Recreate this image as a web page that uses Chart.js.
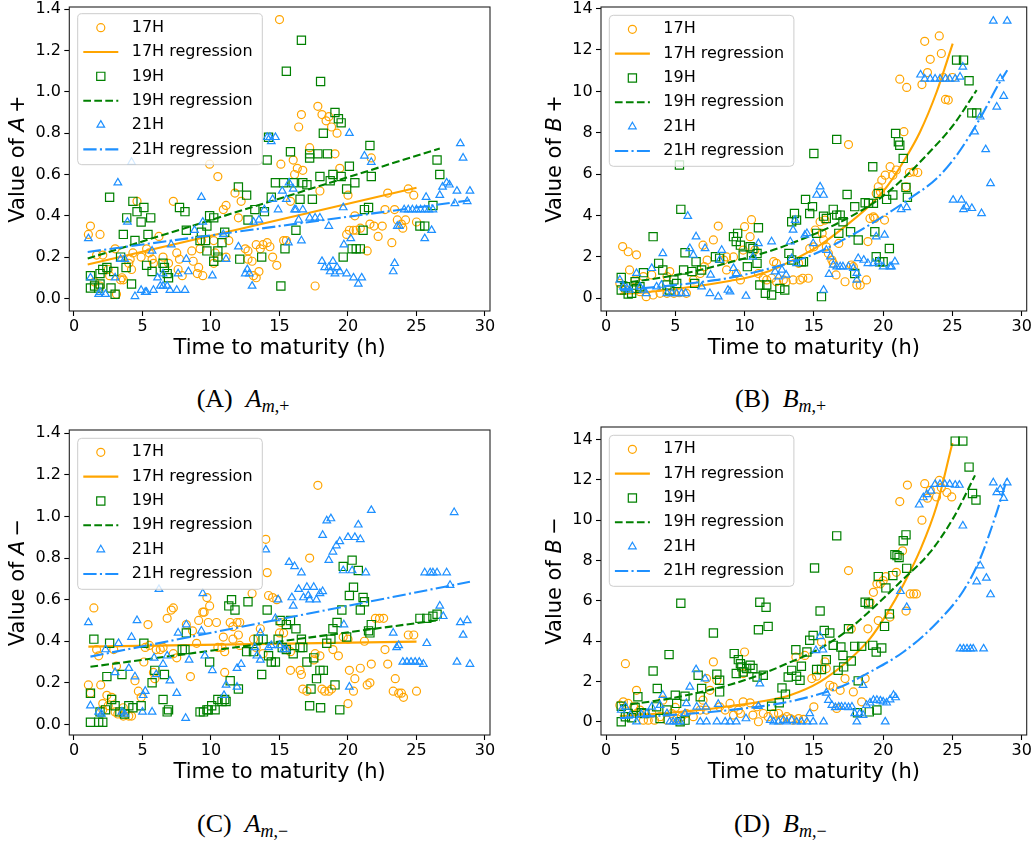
<!DOCTYPE html>
<html><head><meta charset="utf-8">
<script src="https://cdn.jsdelivr.net/npm/chart.js@4.4.1/dist/chart.umd.min.js"></script>
<style>
html,body{margin:0;padding:0;background:#fff}
body{width:1036px;height:846px;position:relative;overflow:hidden}
canvas{position:absolute}
.cap{position:absolute;font-family:"Liberation Serif",serif;font-size:26px;line-height:26px;white-space:nowrap;color:#000}
.cap .m{margin-left:13px}
.cap .sb{font-size:18px;position:relative;top:5px;line-height:0}
</style></head><body>
<canvas id="cA" width="518" height="372" style="left:0;top:0"></canvas>
<canvas id="cB" width="518" height="372" style="left:518px;top:0"></canvas>
<canvas id="cC" width="518" height="372" style="left:0;top:420px"></canvas>
<canvas id="cD" width="518" height="372" style="left:518px;top:420px"></canvas>
<div class="cap" style="left:196.7px;top:386.2px">(A)<span class="m"><i>A</i><span class="sb"><i>m</i>,+</span></span></div>
<div class="cap" style="left:735px;top:386.2px">(B)<span class="m"><i>B</i><span class="sb"><i>m</i>,+</span></span></div>
<div class="cap" style="left:197px;top:811.2px">(C)<span class="m"><i>A</i><span class="sb"><i>m</i>,−</span></span></div>
<div class="cap" style="left:734px;top:811.2px">(D)<span class="m"><i>B</i><span class="sb"><i>m</i>,−</span></span></div>
<script>
// ---------- tick values / labels ----------
const xTicks = [0, 5, 10, 15, 20, 25, 30];
const yTicksA = [0, 0.2, 0.4, 0.6, 0.8, 1.0, 1.2, 1.4];
const yLabelsA = ['0.0','0.2','0.4','0.6','0.8','1.0','1.2','1.4'];
const yTicksB = [0, 2, 4, 6, 8, 10, 12, 14];
const yLabelsB = ['0','2','4','6','8','10','12','14'];
const seriesLabels = ['17H', '17H regression', '19H', '19H regression', '21H', '21H regression'];
const xTitle = 'Time to maturity (h)';

// ---------- (A) A m,+ ----------
const aPlus17 = [[1.05,0.31],[1.2,0.35],[1.9,0.31],[1.65,0.21],[2.1,0.21],[2.5,0.14],[2.6,0.11],[3.0,0.24],[3.1,0.02],[1.5,0.08],[1.9,0.06],[3.4,0.09],[3.6,0.09],[3.5,0.1],[4.0,0.17],[4.2,0.14],[4.1,0.19],[4.6,0.47],[4.3,0.22],[4.9,0.2],[5.3,0.24],[5.5,0.22],[5.7,0.19],[5.8,0.17],[6.2,0.30],[6.5,0.2],[6.9,0.17],[7.25,0.47],[7.5,0.22],[7.7,0.19],[7.9,0.11],[7.6,0.14],[8.6,0.23],[8.7,0.18],[9.0,0.12],[9.1,0.15],[9.4,0.11],[9.2,0.24],[9.3,0.28],[9.9,0.65],[10.5,0.59],[10.2,0.17],[10.3,0.22],[10.2,0.28],[10.9,0.43],[11.1,0.45],[11.3,0.28],[11.1,0.2],[11.75,0.51],[12.0,0.39],[12.2,0.47],[12.5,0.24],[12.7,0.19],[13.0,0.18],[13.1,0.11],[13.3,0.10],[13.5,0.13],[12.7,0.23],[13.3,0.26],[13.6,0.24],[13.8,0.26],[14.1,0.27],[14.3,0.25],[14.5,0.2],[14.8,0.16],[15.0,1.35],[15.1,0.65],[15.3,0.28],[15.5,0.28],[15.8,0.47],[16.0,0.67],[16.1,0.60],[16.3,0.63],[16.4,0.83],[16.6,0.89],[16.7,0.62],[17.2,0.73],[17.6,0.06],[17.8,0.93],[17.95,0.52],[18.1,0.89],[18.4,0.86],[18.6,0.88],[18.8,0.83],[19.2,0.8],[19.05,0.70],[19.4,0.63],[20.0,0.50],[19.9,0.31],[20.1,0.33],[20.4,0.33],[20.6,0.33],[20.9,0.34],[20.5,0.40],[21.4,0.23],[21.6,0.36],[21.9,0.35],[22.5,0.35],[21.7,0.68],[22.2,0.30],[22.9,0.51],[22.7,0.43],[23.2,0.27],[23.6,0.38],[23.9,0.36],[24.0,0.34],[24.2,0.38],[24.4,0.53],[24.8,0.50],[25.0,0.37],[23.4,0.43]];
const aPlus17Reg = [[1,0.164],[25,0.536]];
const aPlus19 = [[1.2,0.11],[1.2,0.05],[1.5,0.06],[1.8,0.05],[1.9,0.07],[1.9,0.12],[2.1,0.14],[2.4,0.15],[2.7,0.05],[3.0,0.02],[2.6,0.49],[2.9,0.13],[3.4,0.2],[3.6,0.31],[3.85,0.39],[3.8,0.15],[4.2,0.07],[4.3,0.47],[4.45,0.28],[4.6,0.42],[4.9,0.37],[5.1,0.44],[5.3,0.16],[5.4,0.31],[5.6,0.39],[5.7,0.13],[6.5,0.17],[6.6,0.15],[6.8,0.12],[6.9,0.1],[7.7,0.44],[8.1,0.42],[8.2,0.33],[9.2,0.28],[9.6,0.28],[9.3,0.32],[9.7,0.35],[9.7,0.23],[9.9,0.40],[10.2,0.39],[10.2,0.18],[10.5,0.23],[10.5,0.2],[10.8,0.27],[11.0,0.32],[12.0,0.54],[12.6,0.50],[12.1,0.19],[12.7,0.38],[13.2,0.43],[13.7,0.2],[13.9,0.42],[14.1,0.67],[14.2,0.78],[14.4,0.49],[14.7,0.56],[15.1,0.06],[15.3,0.56],[15.4,0.24],[15.5,1.10],[15.8,0.71],[16.0,0.56],[16.2,0.33],[16.5,0.48],[16.6,1.25],[16.7,0.56],[17.0,0.55],[17.2,0.70],[17.2,0.68],[17.4,0.48],[17.8,0.70],[17.95,0.59],[18.0,1.05],[18.2,0.80],[18.5,0.70],[18.7,0.57],[18.9,0.60],[19.05,0.90],[19.3,0.87],[19.5,0.85],[19.5,0.59],[19.65,0.2],[19.9,0.53],[20.1,0.64],[20.3,0.24],[20.6,0.24],[20.9,0.24],[20.5,0.56],[21.1,0.33],[21.2,0.43],[21.5,0.44],[21.6,0.74],[21.7,0.59],[25.25,0.35],[25.6,0.35],[26.2,0.45],[26.5,0.67],[26.7,0.60]];
const aPlus19Reg = [[1,0.193],[26.7,0.726]];
const aPlus21 = [[1.05,0.29],[1.2,0.10],[1.8,0.02],[1.9,0.03],[2.3,0.02],[3.2,0.56],[3.0,0.10],[3.4,0.19],[3.7,0.19],[3.9,0.37],[4.2,0.66],[4.45,0.01],[4.9,0.04],[5.2,0.03],[5.3,0.03],[5.7,0.23],[5.8,0.04],[6.1,0.10],[6.3,0.06],[6.5,0.06],[6.8,0.06],[7.0,0.04],[6.5,0.12],[7.1,0.26],[7.5,0.04],[7.6,0.12],[8.1,0.04],[8.2,0.19],[8.35,0.13],[8.8,0.33],[9.3,0.49],[9.4,0.37],[10.1,0.11],[11.1,0.19],[10.9,0.31],[12.0,0.25],[12.5,0.12],[12.65,0.14],[12.8,0.12],[13.1,0.37],[13.0,0.06],[13.5,0.38],[13.9,0.43],[14.1,0.78],[14.3,0.78],[14.4,0.76],[14.7,0.78],[14.5,0.48],[14.9,0.43],[15.2,0.52],[15.5,0.48],[15.7,0.56],[16.0,0.53],[15.65,0.27],[16.1,0.43],[16.2,0.43],[16.4,0.38],[16.6,0.28],[16.7,0.43],[17.2,0.39],[17.6,0.39],[17.95,0.39],[18.1,0.18],[18.3,0.15],[18.6,0.15],[18.9,0.18],[19.2,0.15],[19.4,0.13],[18.7,0.13],[19.05,0.12],[18.6,0.35],[19.65,0.44],[19.7,0.26],[19.9,0.12],[20.1,0.80],[20.2,0.29],[20.4,0.1],[20.75,0.07],[21.0,0.1],[21.2,0.69],[21.7,0.66],[23.3,0.13],[23.4,0.17],[23.6,0.35],[23.75,0.35],[24.1,0.43],[24.4,0.43],[24.7,0.43],[25.0,0.43],[25.3,0.43],[25.6,0.43],[25.9,0.43],[25.6,0.29],[25.7,0.49],[26.1,0.33],[26.2,0.43],[26.7,0.50],[26.9,0.54],[27.2,0.56],[27.4,0.55],[27.8,0.46],[27.95,0.52],[28.2,0.75],[28.4,0.68],[28.7,0.47],[28.9,0.52]];
const aPlus21Reg = [[1,0.225],[28.9,0.475]];

// ---------- (B) B m,+ ----------
const bPlus17 = [[1.2,2.5],[1.6,2.25],[2.2,2.1],[1.7,1.37],[1.0,0.72],[1.4,0.4],[2.0,0.48],[2.45,0.32],[2.9,0.08],[3.4,0.16],[3.9,0.24],[4.4,0.24],[4.9,0.24],[5.3,0.27],[5.8,0.24],[2.1,0.89],[2.7,1.05],[3.3,1.13],[4.4,1.05],[4.6,1.29],[6.3,0.89],[6.8,1.2],[7.1,1.53],[7.3,1.85],[7.0,2.57],[7.75,2.82],[8.1,3.49],[8.5,1.85],[8.7,2.0],[9.2,2.0],[8.7,1.37],[9.4,1.2],[9.7,0.89],[10.0,3.46],[10.5,3.8],[10.4,2.98],[9.9,2.33],[10.75,2.33],[11.0,1.2],[11.35,0.97],[11.6,0.89],[11.95,0.97],[12.3,0.8],[12.1,1.77],[12.3,1.69],[12.8,0.89],[13.0,0.8],[13.5,0.89],[14.0,0.89],[14.2,0.97],[14.6,0.97],[13.9,1.69],[14.7,2.41],[15.0,2.49],[15.1,3.3],[15.45,3.7],[15.8,3.78],[15.6,3.14],[15.7,2.82],[15.9,2.49],[16.05,2.17],[16.3,1.85],[16.4,1.69],[16.6,1.13],[16.8,2.65],[17.25,0.8],[17.5,7.43],[17.7,1.61],[17.85,1.53],[18.1,0.64],[18.35,0.64],[18.8,0.89],[18.9,2.74],[19.05,3.86],[19.3,3.94],[19.4,3.86],[19.65,5.39],[19.9,5.71],[20.15,5.95],[19.5,5.07],[19.8,5.15],[20.1,3.78],[20.5,6.36],[20.7,5.95],[20.95,6.2],[21.5,8.05],[21.2,10.59],[21.7,10.19],[21.9,6.08],[22.2,6.11],[22.5,6.08],[21.65,5.39],[22.8,10.33],[23.0,12.42],[23.2,10.91],[23.4,11.55],[24.05,12.68],[24.2,11.83],[24.5,9.61],[24.7,9.58],[24.35,10.67],[25.0,10.67]];
const bPlus17Reg = [[1,0.21],[3,0.3],[5,0.45],[7,0.63],[9,0.85],[10,0.97],[11.83,1.33],[13.28,1.77],[15.44,2.57],[17.37,3.54],[19.05,4.5],[20.26,5.39],[21.46,6.6],[22.66,8.04],[23.86,9.97],[25.02,12.31]];
const bPlus19 = [[1.1,1.01],[1.1,0.4],[1.4,0.56],[1.6,0.21],[1.85,0.24],[2.1,0.8],[2.2,0.48],[2.45,0.56],[2.7,1.24],[3.4,2.98],[3.8,1.69],[4.1,1.37],[4.4,0.64],[4.6,0.4],[4.9,0.89],[5.1,0.72],[5.3,6.44],[5.4,4.30],[5.6,1.37],[5.7,2.2],[6.2,1.29],[6.5,1.77],[6.9,1.37],[6.4,0.72],[7.9,2.01],[8.2,1.93],[9.2,2.98],[9.5,3.14],[9.7,2.57],[9.4,2.74],[9.9,2.09],[10.2,1.53],[10.4,2.49],[10.6,2.41],[10.9,2.17],[11.0,3.41],[10.9,1.69],[11.1,0.64],[11.5,0.24],[11.6,0.64],[11.95,0.16],[12.55,0.48],[12.9,0.4],[13.2,2.17],[13.4,1.85],[13.4,3.7],[13.6,4.1],[13.75,3.78],[14.1,1.77],[14.25,1.77],[14.4,4.78],[14.7,4.1],[14.9,4.43],[15.0,7.0],[15.2,3.14],[15.55,0.08],[15.7,3.97],[15.9,3.86],[16.4,4.3],[16.65,4.02],[16.9,4.02],[17.1,3.7],[16.65,7.68],[16.8,3.14],[17.4,5.02],[17.65,3.22],[17.95,4.43],[17.95,1.2],[18.2,2.82],[18.7,4.62],[18.95,4.59],[19.25,6.36],[19.3,4.59],[19.4,3.22],[19.5,2.01],[19.75,1.77],[20.0,1.77],[19.65,5.07],[20.25,4.78],[20.7,4.99],[20.45,2.41],[20.9,7.97],[21.1,7.56],[21.2,7.4],[21.45,6.76],[21.65,5.36],[21.75,4.88],[25.3,11.51],[25.8,11.51],[26.2,10.51],[26.4,8.96],[26.75,8.96]];
const bPlus19Reg = [[1,0.72],[3,0.9],[5,1.12],[7,1.4],[9,1.75],[11.83,2.28],[13.04,2.57],[15.44,3.22],[17.85,4.02],[19.77,4.83],[21.46,5.79],[23.14,6.92],[25.06,8.37],[26.75,10.06]];
const bPlus21 = [[1.0,0.89],[1.25,0.56],[1.5,0.48],[1.7,0.4],[2.2,1.21],[2.45,0.56],[2.7,0.4],[2.9,0.24],[3.3,1.45],[4.1,2.17],[3.65,0.56],[4.0,0.64],[4.4,0.24],[4.75,0.24],[5.1,0.24],[5.45,0.24],[5.75,0.24],[5.9,3.97],[6.05,2.41],[6.3,2.09],[6.5,2.98],[6.9,0.56],[7.5,0.24],[7.15,2.41],[7.55,1.13],[8.1,0.08],[8.2,1.85],[8.35,2.33],[8.8,0.4],[8.95,0.32],[9.2,1.45],[9.4,1.2],[10.1,0.11],[10.6,2.0],[11.0,2.65],[11.95,2.74],[12.2,1.29],[12.45,1.05],[12.7,1.37],[13.0,1.13],[13.3,2.74],[13.4,1.93],[13.75,1.69],[13.5,3.3],[13.65,3.78],[14.35,3.06],[14.5,3.14],[14.95,2.65],[15.2,4.99],[15.45,5.39],[15.7,4.99],[15.7,0.4],[15.9,2.33],[16.2,2.01],[16.4,1.61],[16.65,1.53],[16.9,1.53],[17.1,1.53],[17.5,1.53],[17.85,1.45],[18.1,1.21],[16.1,1.17],[18.1,0.89],[18.2,1.93],[18.6,1.85],[18.9,1.69],[19.3,1.69],[19.65,1.77],[20.0,1.53],[20.5,1.53],[20.85,1.77],[19.5,2.98],[20.1,3.06],[20.6,1.53],[21.3,4.3],[21.7,4.39],[22.7,10.8],[23.0,10.6],[23.4,10.6],[23.75,10.6],[24.1,10.6],[24.5,10.6],[24.8,10.6],[25.2,10.6],[25.55,10.7],[25.75,11.18],[25.05,4.75],[25.65,4.75],[26.0,4.43],[26.4,4.35],[25.8,4.3],[26.6,8.05],[27.1,4.1],[27.0,8.77],[27.4,7.19],[27.75,5.55],[27.95,13.4],[28.95,13.4],[28.2,9.25],[28.45,10.62],[28.7,9.77]];
const bPlus21Reg = [[1,0.4],[4,0.57],[7,0.8],[9,1.0],[11.83,1.45],[14.24,1.93],[16.65,2.66],[19.77,3.86],[21.94,4.83],[23.86,5.79],[25.31,6.92],[26.99,8.69],[28.43,10.46],[28.96,11.02]];

// ---------- (C) A m,- ----------
const aMinus17 = [[1.05,0.19],[1.2,0.15],[1.45,0.56],[1.65,0.36],[1.8,0.33],[1.95,0.19],[2.1,0.10],[2.4,0.14],[2.75,0.13],[2.1,0.07],[2.5,0.09],[3.0,0.06],[3.2,0.05],[3.6,0.04],[4.0,0.04],[4.2,0.04],[2.9,0.36],[3.1,0.28],[3.6,0.08],[4.45,0.21],[4.7,0.16],[4.9,0.13],[5.1,0.30],[5.2,0.37],[5.5,0.38],[5.4,0.48],[5.8,0.25],[5.9,0.22],[6.0,0.36],[6.3,0.36],[6.5,0.37],[6.8,0.51],[7.1,0.55],[7.25,0.56],[7.25,0.34],[7.5,0.32],[8.2,0.48],[8.5,0.23],[8.65,0.45],[8.95,0.39],[9.1,0.5],[9.4,0.54],[9.5,0.54],[9.7,0.61],[9.8,0.49],[9.9,0.57],[10.4,0.49],[10.5,0.37],[10.8,0.37],[11.0,0.35],[10.9,0.42],[11.0,0.25],[11.4,0.49],[11.6,0.47],[11.9,0.49],[12.1,0.49],[11.6,0.41],[12.0,0.43],[12.1,0.38],[13.0,0.63],[13.1,0.41],[13.3,0.37],[13.6,0.46],[13.8,0.34],[14.0,0.89],[14.1,0.73],[14.2,0.62],[14.5,0.61],[14.8,0.6],[15.0,0.44],[15.1,0.49],[15.3,0.44],[15.5,0.36],[15.8,0.35],[15.8,0.26],[16.5,0.26],[16.6,0.24],[16.7,0.17],[17.0,0.16],[17.2,0.80],[17.5,0.31],[17.6,0.34],[17.8,1.15],[17.95,0.33],[18.1,0.17],[18.3,0.16],[18.6,0.16],[18.8,0.17],[18.9,0.36],[19.3,0.33],[19.65,0.42],[20.0,0.41],[20.1,0.26],[20.4,0.16],[20.5,0.22],[20.9,0.27],[20.0,0.10],[21.2,0.40],[21.4,0.19],[21.6,0.2],[21.7,0.29],[22.0,0.51],[22.3,0.51],[22.6,0.51],[22.7,0.36],[22.9,0.29],[23.3,0.16],[23.45,0.22],[23.7,0.15],[23.9,0.15],[24.05,0.13],[24.4,0.43],[24.8,0.43],[25.0,0.16]];
const aMinus17Reg = [[1.05,0.374],[25.0,0.398]];
const aMinus19 = [[1.2,0.01],[1.45,0.41],[1.8,0.01],[2.1,0.01],[1.2,0.15],[1.9,0.06],[2.3,0.07],[2.4,0.23],[2.6,0.39],[2.75,0.12],[3.0,0.09],[3.5,0.24],[3.35,0.06],[3.7,0.05],[4.0,0.09],[4.3,0.08],[5.1,0.39],[4.9,0.09],[5.7,0.20],[5.9,0.26],[6.5,0.12],[6.6,0.24],[6.8,0.06],[6.9,0.07],[7.9,0.36],[8.1,0.36],[8.2,0.44],[9.2,0.06],[9.45,0.06],[9.7,0.07],[9.8,0.07],[9.9,0.30],[10.05,0.09],[10.3,0.07],[10.5,0.12],[10.8,0.11],[11.0,0.12],[11.1,0.11],[11.3,0.57],[11.4,0.21],[11.5,0.60],[11.75,0.55],[12.0,0.17],[12.6,0.35],[12.7,0.59],[13.1,0.35],[13.45,0.41],[13.8,0.41],[13.7,0.24],[14.1,0.55],[14.2,0.33],[14.4,0.30],[14.7,0.30],[14.9,0.41],[15.05,0.50],[15.2,0.37],[15.5,0.36],[15.5,0.48],[15.8,0.5],[16.0,0.34],[16.2,0.46],[16.5,0.37],[16.7,0.37],[16.6,0.41],[17.0,0.30],[17.2,0.09],[17.3,0.17],[17.5,0.32],[17.7,0.22],[17.95,0.26],[18.2,0.26],[18.0,0.08],[18.45,0.39],[18.75,0.41],[18.9,0.46],[19.2,0.49],[19.05,0.19],[19.4,0.07],[19.55,0.55],[19.65,0.76],[19.9,0.42],[20.1,0.62],[20.3,0.79],[20.4,0.66],[20.75,0.74],[20.9,0.55],[21.1,0.61],[21.2,0.59],[21.5,0.45],[21.6,0.44],[21.7,0.48],[25.25,0.51],[25.75,0.51],[26.2,0.52],[26.5,0.53]];
const aMinus19Reg = [[1.2,0.277],[26.7,0.502]];
const aMinus21 = [[1.05,0.49],[1.2,0.09],[1.8,0.06],[2.0,0.05],[2.3,0.36],[3.0,0.25],[3.25,0.39],[3.5,0.06],[3.7,0.05],[4.0,0.27],[4.2,0.42],[4.45,0.23],[4.6,0.50],[5.05,0.14],[5.2,0.16],[5.0,0.06],[5.7,0.06],[5.85,0.32],[6.0,0.24],[6.2,0.65],[6.5,0.29],[6.8,0.33],[7.0,0.21],[7.5,0.15],[7.6,0.44],[8.15,0.03],[8.2,0.48],[8.4,0.31],[9.3,0.45],[9.4,0.63],[9.55,0.33],[10.1,0.26],[10.95,0.14],[11.1,0.19],[11.9,0.27],[12.2,0.29],[11.9,0.18],[13.2,0.37],[13.35,0.33],[13.6,0.31],[13.6,0.44],[14.0,0.84],[14.2,0.37],[14.4,0.38],[14.7,0.51],[14.9,0.60],[15.0,0.38],[15.3,0.36],[15.5,0.36],[15.7,0.78],[15.9,0.61],[16.0,0.57],[16.1,0.76],[16.4,0.65],[16.6,0.73],[16.75,0.61],[17.0,0.66],[17.5,0.66],[17.1,0.62],[17.2,0.60],[17.7,0.60],[17.95,0.63],[18.15,0.64],[18.15,0.91],[18.45,0.98],[18.75,0.99],[18.6,0.79],[18.9,0.83],[19.15,0.86],[19.4,0.88],[19.65,0.74],[19.7,0.48],[20.0,0.90],[20.1,0.18],[20.3,0.74],[20.5,0.90],[20.75,0.96],[20.9,0.89],[21.3,0.73],[21.7,1.03],[23.3,0.44],[23.55,0.37],[23.7,0.38],[24.0,0.30],[24.3,0.30],[24.6,0.30],[24.9,0.30],[25.2,0.30],[25.5,0.29],[25.6,0.73],[26.0,0.73],[26.2,0.73],[26.5,0.73],[25.75,0.39],[26.7,0.57],[26.95,0.52],[27.2,0.73],[27.45,0.67],[27.75,1.02],[27.95,0.30],[28.2,0.49],[28.4,0.43],[28.7,0.50],[28.9,0.29]];
const aMinus21Reg = [[1.2,0.326],[28.9,0.686]];

// ---------- (D) B m,- ----------
const bMinus17 = [[1.0,0.82],[1.25,0.99],[1.6,0.91],[2.0,0.74],[2.2,0.41],[1.4,2.88],[2.2,1.56],[2.45,0.58],[2.7,0.08],[3.05,0.08],[3.3,0.41],[3.5,0.08],[3.9,0.25],[4.4,0.08],[4.75,0.41],[5.1,0.16],[5.45,0.25],[5.8,0.41],[6.3,0.25],[4.1,1.07],[5.0,0.71],[6.8,0.58],[7.0,1.07],[7.25,0.58],[7.25,2.14],[7.5,1.56],[7.75,2.97],[8.0,2.06],[8.2,0.74],[8.6,0.58],[8.95,0.91],[9.2,0.33],[9.55,0.58],[9.7,0.41],[10.0,3.46],[9.9,2.39],[9.9,0.99],[10.4,0.94],[10.9,0.74],[10.6,0.33],[11.0,0.0],[11.35,0.41],[11.7,0.25],[12.1,0.41],[12.45,0.41],[12.55,0.08],[12.8,0.16],[13.05,0.25],[13.3,0.16],[13.5,0.08],[13.9,0.16],[14.25,0.12],[13.7,3.21],[14.35,3.29],[15.0,0.74],[14.85,2.14],[15.2,2.26],[15.55,3.95],[15.8,2.97],[15.9,2.64],[16.15,1.81],[16.4,1.73],[16.65,0.66],[16.9,1.56],[17.25,2.14],[17.5,7.5],[17.7,4.61],[17.85,1.48],[18.45,0.99],[18.7,2.14],[18.9,4.61],[19.05,5.93],[19.3,6.42],[19.55,6.84],[19.8,6.84],[20.0,7.0],[20.2,7.2],[19.65,5.02],[20.5,5.19],[20.95,7.41],[21.2,10.92],[21.4,8.48],[21.65,5.49],[21.75,11.74],[21.95,6.34],[22.2,6.34],[22.4,6.34],[22.8,10.0],[23.0,11.81],[23.2,11.09],[23.4,11.48],[23.85,11.15],[24.05,11.97],[24.2,11.61],[24.6,11.37],[24.95,11.15]];
const bMinus17Reg = [[1,0.28],[3,0.37],[5,0.47],[7,0.6],[9,0.78],[11,0.98],[13.28,1.32],[15.44,1.98],[17.37,2.96],[19.05,4.12],[20.26,5.35],[21.46,6.8],[22.66,8.5],[23.86,10.7],[25,13.83]];
const bMinus19 = [[1.1,0.0],[1.4,0.25],[1.6,0.41],[1.85,0.2],[1.1,0.77],[2.3,1.24],[2.1,0.71],[2.55,0.45],[2.8,0.41],[3.4,2.52],[3.7,1.65],[3.65,0.74],[3.9,0.16],[4.4,0.58],[4.55,3.33],[5.0,1.32],[5.1,0.91],[5.35,0.0],[5.7,0.08],[5.4,5.88],[5.7,1.27],[6.65,2.31],[6.8,1.24],[6.9,1.65],[7.75,4.4],[8.0,2.36],[8.2,1.48],[8.2,2.06],[9.25,3.38],[9.55,3.08],[9.7,2.88],[9.8,2.72],[9.9,2.47],[10.15,2.64],[10.4,2.8],[10.6,2.64],[10.9,2.22],[11.35,2.31],[9.4,2.39],[11.1,5.93],[11.55,5.68],[11.0,4.56],[11.7,4.73],[11.95,0.77],[12.5,0.94],[12.7,1.68],[12.95,1.37],[13.15,2.22],[13.4,2.55],[13.75,2.26],[14.0,2.06],[13.7,3.57],[14.1,2.75],[14.5,3.46],[14.7,4.04],[14.95,4.28],[15.05,7.63],[15.2,2.59],[15.45,5.49],[15.55,2.59],[15.75,4.53],[15.9,3.08],[16.15,4.4],[16.65,9.22],[16.4,3.79],[16.95,3.71],[16.75,2.55],[17.1,3.29],[17.15,2.72],[17.5,4.61],[17.7,3.01],[17.95,3.74],[18.45,3.74],[18.15,0.45],[18.2,2.03],[18.7,5.93],[18.95,5.85],[19.0,0.49],[19.25,3.79],[19.5,3.46],[19.9,3.66],[19.65,7.2],[19.55,0.58],[20.2,6.64],[20.1,4.73],[20.45,5.35],[20.7,7.25],[20.85,8.29],[21.0,8.24],[21.15,8.15],[21.45,8.98],[21.65,9.27],[21.7,7.61],[25.2,13.92],[25.75,13.92],[26.2,12.63],[26.45,11.32],[26.7,11.0]];
const bMinus19Reg = [[1,0.8],[3,0.98],[5,1.2],[7,1.5],[9,1.85],[11,2.3],[13.04,2.88],[15.44,3.63],[17.37,4.5],[19.05,5.5],[21.34,7.0],[23.38,8.4],[25.06,10.1],[26.63,12.22]];
const bMinus21 = [[1.1,0.58],[1.4,0.74],[1.75,0.33],[2.2,0.0],[2.55,0.38],[2.95,0.41],[3.3,0.74],[3.9,0.82],[4.1,1.32],[4.4,0.41],[4.6,0.0],[4.85,0.0],[5.1,0.0],[5.35,0.0],[5.7,0.41],[5.8,0.91],[6.05,1.73],[6.5,2.59],[6.55,0.74],[6.8,0.0],[7.25,0.0],[7.15,2.14],[7.2,0.74],[8.1,0.87],[8.0,0.0],[8.6,0.0],[8.95,0.0],[9.4,0.0],[10.1,0.16],[11.1,1.89],[11.0,0.77],[11.85,0.08],[12.1,0.0],[12.45,0.0],[12.8,0.08],[13.05,0.0],[13.4,0.08],[13.75,0.0],[14.1,0.0],[14.5,0.0],[14.7,0.41],[14.95,0.0],[15.7,0.0],[15.15,3.54],[15.45,4.23],[15.65,3.57],[15.9,1.43],[16.05,1.07],[16.3,0.82],[16.55,0.71],[16.8,0.74],[17.0,0.74],[17.25,0.74],[17.5,0.71],[17.75,0.74],[18.1,0.0],[17.95,0.41],[18.3,0.41],[18.55,0.33],[18.55,1.81],[18.8,0.82],[19.05,0.94],[19.3,1.07],[19.55,1.07],[19.8,1.04],[20.0,0.99],[20.25,0.94],[20.5,1.1],[20.75,1.32],[20.9,1.2],[20.15,0.0],[21.25,6.47],[21.7,5.68],[22.6,10.76],[22.9,11.12],[23.15,11.28],[23.45,11.45],[23.75,11.78],[24.1,11.78],[24.45,11.78],[24.8,11.78],[25.2,11.74],[25.5,11.74],[25.75,9.72],[25.55,3.62],[25.8,3.62],[26.05,3.62],[26.3,3.62],[26.5,3.62],[26.75,6.95],[27.0,7.74],[27.25,3.62],[27.45,7.13],[27.75,6.31],[27.95,11.86],[28.2,11.37],[28.45,11.53],[28.7,11.09],[28.95,11.86]];
const bMinus21Reg = [[1,0.18],[4,0.3],[7,0.45],[10,0.66],[12.56,0.91],[14.24,1.16],[16.65,1.65],[19.05,2.47],[21.46,3.46],[23.86,4.9],[25.79,6.5],[26.99,8.07],[28.2,10.4],[28.96,12.1]];

// ---------- styling ----------
const ORANGE = '#FFA500', GREEN = '#008000', BLUE = '#1E90FF';
const FONT = '"DejaVu Sans"';
const pts = a => a.map(([x, y]) => ({x, y}));

function scat(label, arr, style, color, r) {
  return {label, data: pts(arr), showLine: false, pointStyle: style, pointRadius: r, pointHoverRadius: r,
    pointBorderWidth: 1.2, pointHoverBorderWidth: 1.2, borderColor: color, pointBorderColor: color,
    backgroundColor: 'rgba(0,0,0,0)', pointBackgroundColor: 'rgba(0,0,0,0)', mk: style, mr: r};
}
function reg(label, arr, color, dash) {
  return {label, data: pts(arr), showLine: true, pointRadius: 0, pointHoverRadius: 0, borderColor: color,
    backgroundColor: color, borderWidth: 2.1, borderDash: dash, fill: false, tension: 0,
    cubicInterpolationMode: arr.length > 2 ? 'monotone' : 'default'};
}

function drawMarker(ctx, style, cx, cy, r) {
  ctx.beginPath();
  if (style === 'circle') { ctx.arc(cx, cy, r, 0, Math.PI * 2); }
  else if (style === 'rect') { const s = r * Math.SQRT1_2; ctx.rect(cx - s, cy - s, 2 * s, 2 * s); }
  else { ctx.moveTo(cx, cy - r); ctx.lineTo(cx + r * 0.866, cy + r * 0.5); ctx.lineTo(cx - r * 0.866, cy + r * 0.5); ctx.closePath(); }
  ctx.stroke();
}

const decor = {
  id: 'decor',
  afterDraw(chart, args, o) {
    const {ctx, chartArea: a} = chart;
    ctx.save();
    // all four spines
    ctx.strokeStyle = '#222'; ctx.lineWidth = 1.1; ctx.setLineDash([]);
    ctx.strokeRect(a.left, a.top, a.right - a.left, a.bottom - a.top);
    // legend box
    const lx = a.left + o.dx, ly = a.top + o.dy, lw = 184.6, lh = 151, rr = 4;
    ctx.beginPath();
    ctx.moveTo(lx + rr, ly); ctx.lineTo(lx + lw - rr, ly); ctx.arcTo(lx + lw, ly, lx + lw, ly + rr, rr);
    ctx.lineTo(lx + lw, ly + lh - rr); ctx.arcTo(lx + lw, ly + lh, lx + lw - rr, ly + lh, rr);
    ctx.lineTo(lx + rr, ly + lh); ctx.arcTo(lx, ly + lh, lx, ly + lh - rr, rr);
    ctx.lineTo(lx, ly + rr); ctx.arcTo(lx, ly, lx + rr, ly, rr); ctx.closePath();
    ctx.fillStyle = 'rgba(255,255,255,0.8)'; ctx.fill();
    ctx.strokeStyle = '#cccccc'; ctx.lineWidth = 1; ctx.stroke();
    chart.data.datasets.forEach((ds, i) => {
      const cy = ly + 14 + i * 24.33;
      const hx = lx + 5.6, hw = 35;
      ctx.strokeStyle = ds.borderColor;
      if (ds.showLine) {
        ctx.lineWidth = ds.borderWidth; ctx.setLineDash(ds.borderDash || []);
        ctx.beginPath(); ctx.moveTo(hx, cy); ctx.lineTo(hx + hw, cy); ctx.stroke();
        ctx.setLineDash([]);
      } else {
        ctx.lineWidth = 1.2;
        drawMarker(ctx, ds.mk, hx + hw / 2, cy, ds.mr);
      }
      ctx.fillStyle = '#000'; ctx.font = '16px ' + FONT; ctx.textBaseline = 'middle'; ctx.textAlign = 'left';
      ctx.fillText(ds.label, lx + 54, cy);
    });
    // y axis title with italic variable
    const segs = [['Value of ', '21px ' + FONT], [o.v, 'oblique 21px ' + FONT], ['\u2009' + o.s, '21px ' + FONT]];
    let total = 0;
    segs.forEach(s => { ctx.font = s[1]; s.push(ctx.measureText(s[0]).width); total += s[2]; });
    ctx.translate(o.yx, (a.top + a.bottom) / 2);
    ctx.rotate(-Math.PI / 2);
    ctx.fillStyle = '#000'; ctx.textBaseline = 'middle'; ctx.textAlign = 'left';
    let x = -total / 2;
    segs.forEach(s => { ctx.font = s[1]; ctx.fillText(s[0], x, 0); x += s[2]; });
    ctx.restore();
  }
};

function makePanel(id, p) {
  const H = 372;
  return new Chart(document.getElementById(id), {
    type: 'scatter',
    data: {datasets: [
      scat(seriesLabels[0], p.s17, 'circle', ORANGE, 4),
      reg(seriesLabels[1], p.r17, ORANGE, []),
      scat(seriesLabels[2], p.s19, 'rect', GREEN, 5.8),
      reg(seriesLabels[3], p.r19, GREEN, [7.7, 3.3]),
      scat(seriesLabels[4], p.s21, 'triangle', BLUE, 4.4),
      reg(seriesLabels[5], p.r21, BLUE, [13.3, 3.3, 2.1, 3.3])
    ].map((d, i) => Object.assign(d, {order: 10 - i}))},
    options: {
      responsive: false, animation: false, events: [],
      layout: {padding: {left: 0, top: p.ca.t, right: 518 - p.ca.r, bottom: 0}},
      plugins: {legend: {display: false}, tooltip: {enabled: false}, decor: {dx: p.leg[0], dy: p.leg[1], yx: p.yx, v: p.v, s: p.s}},
      scales: {
        x: {
          type: 'linear', min: p.xr[0], max: p.xr[1],
          afterBuildTicks: s => { s.ticks = xTicks.map(v => ({value: v})); },
          afterFit: s => { s.height = H - p.ca.b; s.paddingLeft = 0; s.paddingRight = 0; },
          ticks: {font: {family: 'DejaVu Sans', size: 16}, color: '#000', padding: 0.8, maxRotation: 0, autoSkip: false,
                  callback: v => String(v)},
          grid: {display: true, drawOnChartArea: false, drawTicks: true, tickLength: 5, tickColor: '#000', tickWidth: 1.1, color: '#000'},
          border: {display: false},
          title: {display: true, text: xTitle, color: '#000', font: {family: 'DejaVu Sans', size: 21, lineHeight: 1.2},
                  padding: {top: 0, bottom: H - p.titleY - 12.6}}
        },
        y: {
          type: 'linear', min: p.yr[0], max: p.yr[1],
          afterBuildTicks: s => { s.ticks = p.yt.map(v => ({value: v})); },
          afterFit: s => { s.width = p.ca.l; s.paddingTop = 0; s.paddingBottom = 0; },
          ticks: {font: {family: 'DejaVu Sans', size: 16}, color: '#000', padding: 3.4, autoSkip: false,
                  callback: (v, i) => p.yl[i]},
          grid: {display: true, drawOnChartArea: false, drawTicks: true, tickLength: 5, tickColor: '#000', tickWidth: 1.1, color: '#000'},
          border: {display: false},
          title: {display: false}
        }
      }
    },
    plugins: [decor]
  });
}

makePanel('cA', {ca: {l: 69.3, t: 6, r: 490, b: 311}, titleY: 348.3, yx: 18.5, xr: [-0.343, 30.365], yr: [-0.061, 1.411],
  yt: yTicksA, yl: yLabelsA, leg: [8.4, 6.7], v: 'A', s: '+', s17: aPlus17, r17: aPlus17Reg, s19: aPlus19, r19: aPlus19Reg, s21: aPlus21, r21: aPlus21Reg});
makePanel('cB', {ca: {l: 83, t: 6.7, r: 508.7, b: 311}, titleY: 348.3, yx: 37.8, xr: [-0.361, 30.36], yr: [-0.613, 14.077],
  yt: yTicksB, yl: yLabelsB, leg: [8.3, 8.3], v: 'B', s: '+', s17: bPlus17, r17: bPlus17Reg, s19: bPlus19, r19: bPlus19Reg, s21: bPlus21, r21: bPlus21Reg});
makePanel('cC', {ca: {l: 69.3, t: 10, r: 490, b: 315}, titleY: 352.5, yx: 18.3, xr: [-0.343, 30.365], yr: [-0.051, 1.416],
  yt: yTicksA, yl: yLabelsA, leg: [8.4, 8.3], v: 'A', s: '\u2212', s17: aMinus17, r17: aMinus17Reg, s19: aMinus19, r19: aMinus19Reg, s21: aMinus21, r21: aMinus21Reg});
makePanel('cD', {ca: {l: 83, t: 5.7, r: 508.7, b: 315}, titleY: 352.5, yx: 37.8, xr: [-0.361, 30.36], yr: [-0.657, 14.62],
  yt: yTicksB, yl: yLabelsB, leg: [8.3, 8.3], v: 'B', s: '\u2212', s17: bMinus17, r17: bMinus17Reg, s19: bMinus19, r19: bMinus19Reg, s21: bMinus21, r21: bMinus21Reg});
</script>
</body></html>
